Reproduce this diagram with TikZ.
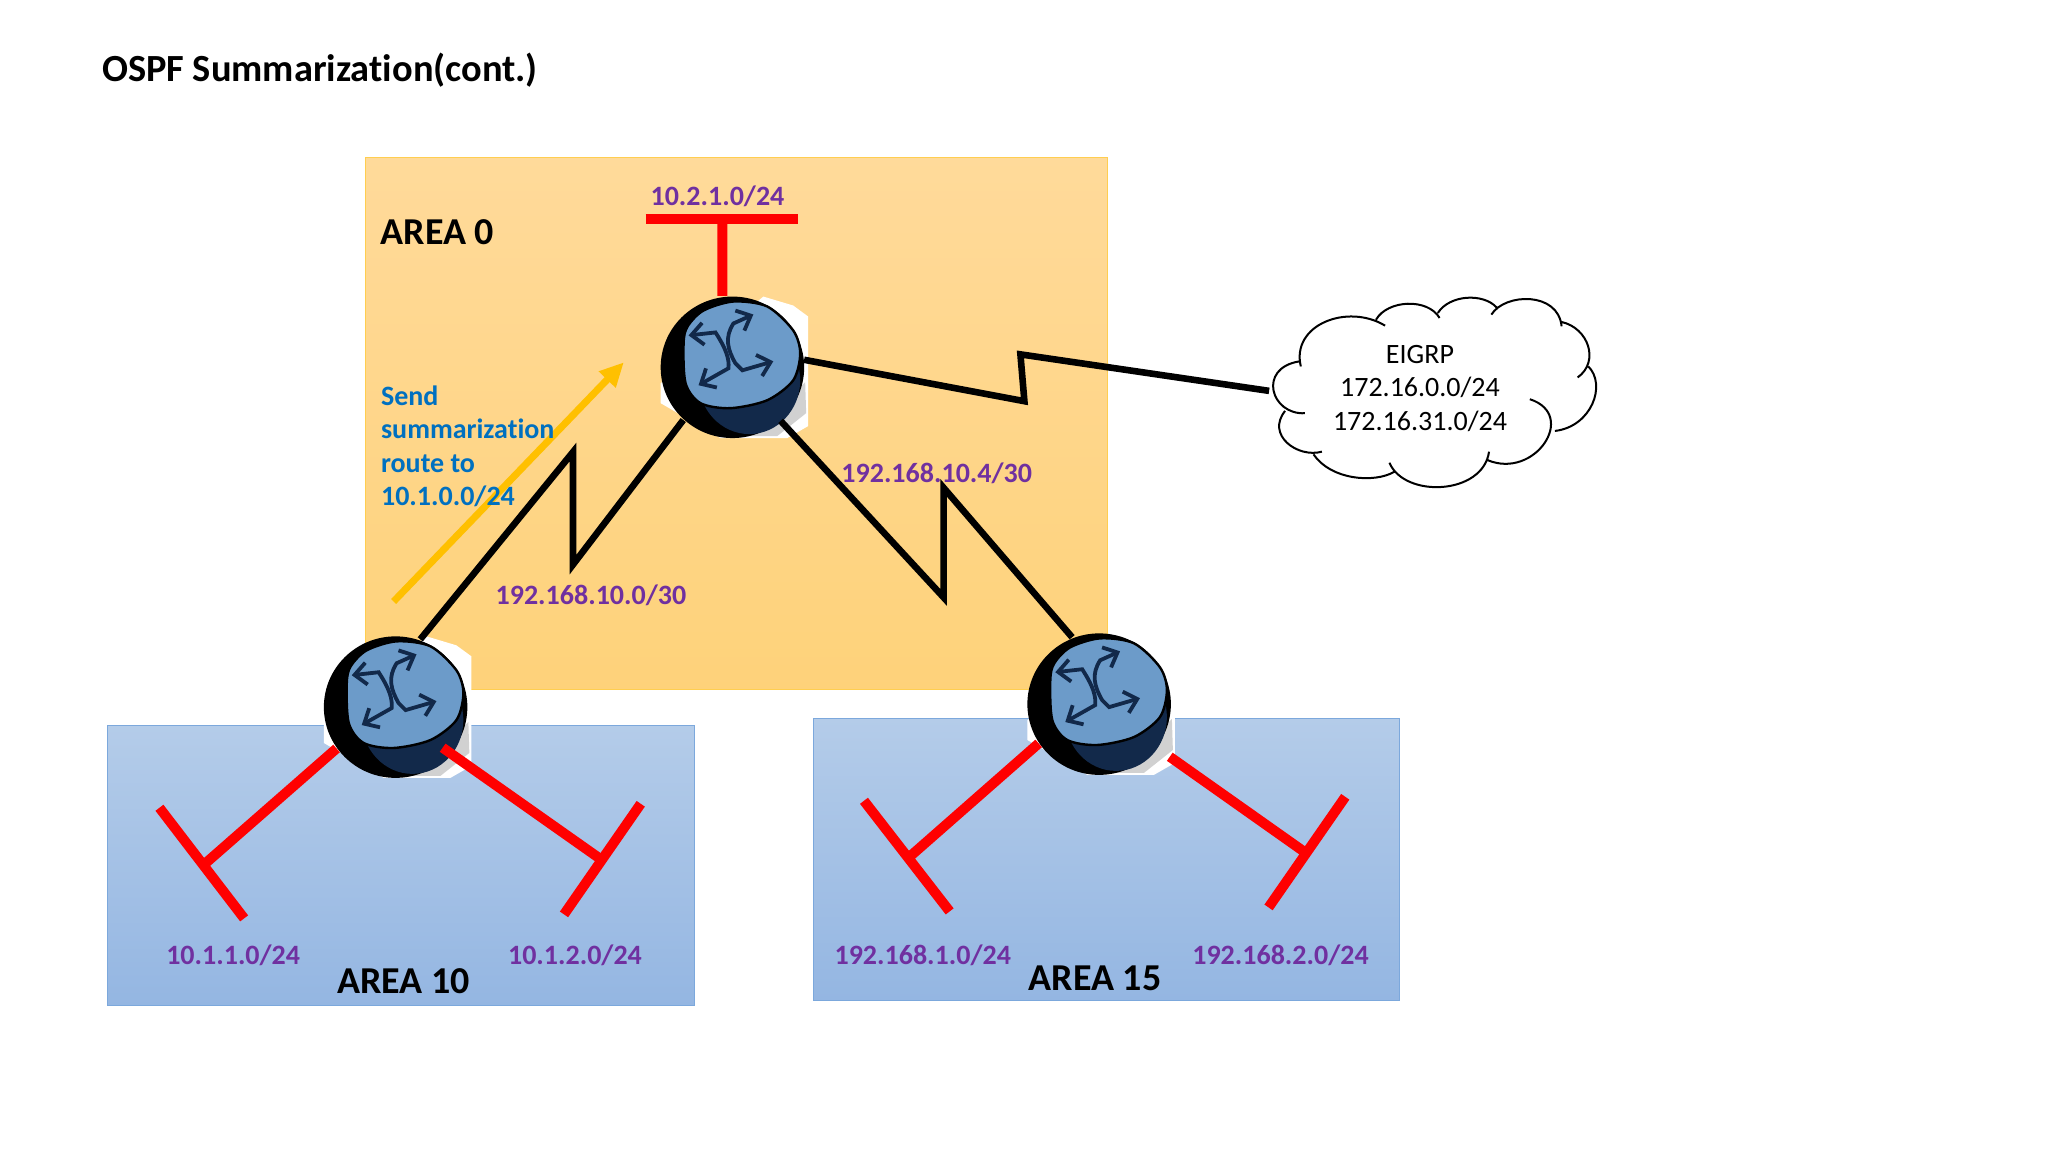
\documentclass[tikz,border=0pt]{standalone}
\usepackage{fontspec}
\setmainfont{Carlito}[Ligatures=CommonOff]
\usetikzlibrary{arrows.meta}
\definecolor{netpurple}{HTML}{7030A0}
\definecolor{noteblue}{HTML}{0070C0}
\definecolor{arrowyellow}{HTML}{FFC000}
\definecolor{routerface}{HTML}{6C9BC9}
\definecolor{routerdark}{HTML}{12294A}
\definecolor{orangetop}{HTML}{FFDA9A}
\definecolor{orangebottom}{HTML}{FED27A}
\definecolor{orangeline}{HTML}{FFCE50}
\definecolor{bluetop}{HTML}{B4CCE9}
\definecolor{bluebottom}{HTML}{94B6E2}
\definecolor{blueline}{HTML}{7CA8DC}
\tikzset{
  routernode/.style={circle, minimum size=71.7pt, inner sep=0pt},
  areaorange/.style={rectangle, inner sep=0pt, draw=orangeline, line width=0.5pt, top color=orangetop, bottom color=orangebottom},
  areablue/.style={rectangle, inner sep=0pt, draw=blueline, line width=0.5pt, top color=bluetop, bottom color=bluebottom},
  lanlink/.style={draw=red, line width=5pt},
  seriallink/.style={draw=black, line width=3.3pt, line join=miter},
  netlabel/.style={text=netpurple, font=\fontsize{14}{17}\selectfont\bfseries},
  arealabel/.style={font=\fontsize{19}{23}\selectfont\bfseries},
  routerarrow/.style={routerdark, line width=1.9pt, {Straight Barb[length=6pt,width=11pt]}-{Straight Barb[length=6pt,width=11pt]}},
  routericon/.pic={
    \fill[white] (31,-71) -- (61,-62) -- (76,-51) -- (76,59) -- (55,71) -- (-12,71) -- (-72,36) -- (-72,16) -- cycle;
    \fill[black!18] (73,15) -- (74,46) -- (45,69) -- (15,69) -- cycle;
    \fill[black] (0,0) ellipse[x radius=72, y radius=71];
    \fill[routerdark] (17,13) ellipse[x radius=51, y radius=54];
    \draw[black, line width=1.2pt, fill=routerface] plot[smooth cycle] coordinates {(-49,-24) (-45,-41) (-29,-57) (1,-66) (35,-61) (61,-37) (68,-14) (61,13) (35,33) (-2,41) (-32,36) (-47,16)};
    \draw[routerarrow] (21,-53) -- (1,-44) .. controls (-8,-30) and (-5,-18) .. (3,-4) -- (10,3) -- (41,-6);
    \draw[routerarrow] (-44,-32) -- (-17,-35) .. controls (-6,-18) and (-3,-8) .. (-4,1) -- (-34,18);
  }
}
\begin{document}
\begin{tikzpicture}[x=0.49825pt, y=-0.49825pt]
\useasboundingbox (-1,-0.6) rectangle (2054.2,1155.4);

% area boxes
\node[areaorange, minimum width=370.7pt, minimum height=266.2pt] (area0) at (738,424.5) {};
\node[areablue, minimum width=293.2pt, minimum height=140.4pt] (area10) at (401.5,868) {};
\node[areablue, minimum width=293pt, minimum height=141pt] (area15) at (1109,861.5) {};

% routers
\node[routernode] (r0) at (734,368) {};
\pic at (r0) {routericon};
\node[routernode] (r1) at (396,709) {};
\pic at (r1) {routericon};
\node[routernode] (r2) at (1102,706) {};
\pic at (r2) {routericon};

% cloud
\node[minimum width=150.5pt, minimum height=70pt, inner sep=0pt, align=center, font=\fontsize{14}{16.8}\selectfont] (eigrp) at (1424,389) {EIGRP\\172.16.0.0/24\\172.16.31.0/24};
\begin{scope}[shift={(1244,271.5)}, scale=0.3355]
\draw[black, line width=1pt]
  (180,285) .. controls (150,160) and (320,95) .. (432,163)
  (405,145) .. controls (440,85) and (560,80) .. (595,140)
  (590,125) .. controls (625,70) and (725,65) .. (765,108)
  (750,130) .. controls (790,65) and (950,60) .. (960,165)
  (960,152) .. controls (1040,170) and (1075,270) .. (1008,318)
  (1040,285) .. controls (1095,340) and (1050,465) .. (940,478)
  (865,383) .. controls (1010,430) and (880,625) .. (738,565)
  (743,540) .. controls (725,670) and (490,680) .. (445,573)
  (460,600) .. controls (400,635) and (270,625) .. (218,548)
  (243,540) .. controls (170,560) and (75,490) .. (133,418)
  (192,425) .. controls (90,430) and (50,290) .. (175,270);
\end{scope}

% summary arrow
\coordinate (sumstart) at (394,603);
\coordinate (sumend) at (625,363);
\draw[arrowyellow, line width=3.5pt, -{Triangle[length=12pt,width=11pt]}] (sumstart) -- (sumend);

% serial links
\coordinate (z1a) at (574,453);
\coordinate (z1b) at (574,566);
\coordinate (z2a) at (946,599);
\coordinate (z2b) at (946,489);
\coordinate (z3a) at (1027,402);
\coordinate (z3b) at (1023,355);
\draw[seriallink] (r1.70) -- (z1a) -- (z1b) -- (r0.-133);
\draw[seriallink] (r0.-48) -- (z2a) -- (z2b) -- (r2.112);
\draw[seriallink] (r0.6) -- (z3a) -- (z3b) -- (eigrp.181.5);

% lan segments
\coordinate (lan0a) at (647,219);
\coordinate (lan0b) at (800,219);
\coordinate (lan0j) at (724,219);
\coordinate (lan1a) at (159,810);
\coordinate (lan1b) at (244,921);
\coordinate (lan1j) at (206,865);
\coordinate (lan2a) at (642,806);
\coordinate (lan2b) at (565,917);
\coordinate (lan2j) at (601,861);
\coordinate (lan3a) at (866,803);
\coordinate (lan3b) at (952,914);
\coordinate (lan3j) at (912,859);
\coordinate (lan4a) at (1349,799);
\coordinate (lan4b) at (1272,910);
\coordinate (lan4j) at (1309,855);
\draw[lanlink] (lan0a) -- (lan0b);
\draw[lanlink] (lan0j) -- (r0.98);
\draw[lanlink] (lan1a) -- (lan1b);
\draw[lanlink] (lan1j) -- (r1.-145);
\draw[lanlink] (lan2a) -- (lan2b);
\draw[lanlink, shorten >=-5pt] (lan2j) -- (r1.-40);
\draw[lanlink] (lan3a) -- (lan3b);
\draw[lanlink] (lan3j) -- (r2.-147);
\draw[lanlink] (lan4a) -- (lan4b);
\draw[lanlink, shorten >=8pt] (lan4j) -- (r2.-37);

% labels
\node[anchor=base west, inner sep=0pt, font=\fontsize{19.2}{23}\selectfont\bfseries] (title) at (101,81.5) {OSPF Summarization(cont.)};
\node[arealabel] (lblarea0) at (438,232) {AREA 0};
\node[arealabel] (lblarea10) at (404,984) {AREA 10};
\node[arealabel] (lblarea15) at (1098,981) {AREA 15};
\node[netlabel] (net0) at (719,196) {10.2.1.0/24};
\node[netlabel] (netserial2) at (939,474) {192.168.10.4/30};
\node[netlabel] (netserial1) at (592,597) {192.168.10.0/30};
\node[netlabel] (net1) at (233,958) {10.1.1.0/24};
\node[netlabel] (net2) at (576,958) {10.1.2.0/24};
\node[netlabel] (net3) at (925,958) {192.168.1.0/24};
\node[netlabel] (net4) at (1284,958) {192.168.2.0/24};
\node[anchor=west, inner sep=0pt, align=left, text=noteblue, font=\fontsize{14}{16.75}\selectfont\bfseries] (note) at (381,447.5) {Send\\summarization\\route to\\10.1.0.0/24};
\end{tikzpicture}
\end{document}
